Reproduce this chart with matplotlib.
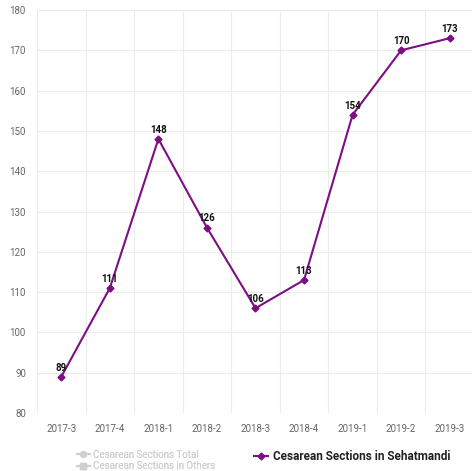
import matplotlib
matplotlib.use('Agg')

import matplotlib.pyplot as plt
from matplotlib.lines import Line2D

quarters = ['2017-3', '2017-4', '2018-1', '2018-2', '2018-3', '2018-4', '2019-1', '2019-2', '2019-3']
sehatmandi = [89, 111, 148, 126, 106, 113, 154, 170, 173]
yticks = [80, 90, 100, 110, 120, 130, 140, 150, 160, 170, 180]

purple = '#7b0f83'
grey = '#cfcfcf'

plt.rcParams['font.family'] = ['Roboto', 'DejaVu Sans']

fig = plt.figure(figsize=(4.72, 4.71), dpi=100)
ax = fig.add_axes([37 / 472, 1 - 413 / 471, 437 / 472, 403 / 471])

x = list(range(len(quarters)))
ax.plot(x, sehatmandi, color=purple, lw=1.5, marker='D', ms=3.5, zorder=3)
for i, v in enumerate(sehatmandi):
    ax.annotate(str(v), (i, v), xytext=(0, 3), textcoords='offset points',
                ha='center', va='bottom', fontsize=7, fontweight='bold', color='#111111')

ax.set_xlim(-0.5, len(quarters) - 0.5)
ax.set_ylim(80, 180)
ax.set_yticks(yticks)
ax.set_xticks(x)
ax.set_xticklabels(quarters)

# vertical grid between categories
for b in range(len(quarters)):
    ax.axvline(b - 0.5, color='#ececec', lw=0.8, zorder=0)
for t in yticks:
    ax.axhline(t, color='#ececec', lw=0.8, zorder=0)

for s in ax.spines.values():
    s.set_visible(False)
ax.tick_params(length=0, labelsize=7, colors='#666666')
ax.tick_params(axis='x', pad=8)
ax.tick_params(axis='y', pad=8)

grey_handles = [
    Line2D([], [], color=grey, marker='o', ms=4, lw=1.5),
    Line2D([], [], color=grey, marker='s', ms=4, lw=1.5),
]
leg1 = fig.legend(grey_handles,
                  ['Cesarean Sections Total', 'Cesarean Sections in Others'],
                  loc='upper left', bbox_to_anchor=(72 / 472, 1 - 445 / 471), frameon=False,
                  fontsize=7, handlelength=1.3, handletextpad=0.4, labelspacing=0.15,
                  borderpad=0, labelcolor=grey)
leg2 = fig.legend([Line2D([], [], color=purple, marker='D', ms=3.5, lw=1.5)],
                  ['Cesarean Sections in Sehatmandi'],
                  loc='upper left', bbox_to_anchor=(248 / 472, 1 - 444 / 471), frameon=False,
                  fontsize=8.5, handlelength=1.2, handletextpad=0.4, borderpad=0)
for t in leg2.get_texts():
    t.set_fontweight('bold')
    t.set_color('#222222')
fig.add_artist(leg1)

plt.savefig('out.png', dpi=100)
plt.close()
